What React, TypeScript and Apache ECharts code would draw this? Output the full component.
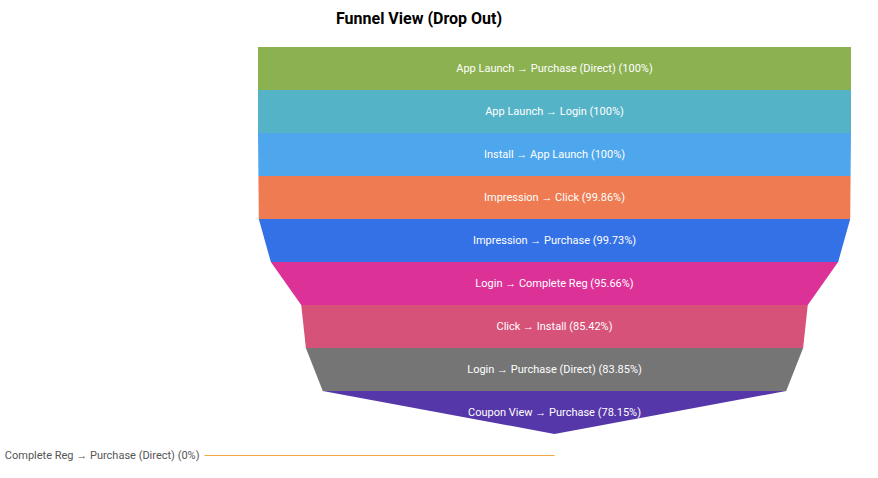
import React, { useEffect, useRef } from "react";
import * as echarts from "echarts";

const stageNames = [
  "App Launch → Purchase (Direct)",
  "App Launch → Login",
  "Install → App Launch",
  "Impression → Click",
  "Impression → Purchase",
  "Login → Complete Reg",
  "Click → Install",
  "Login → Purchase (Direct)",
  "Coupon View → Purchase",
  "Complete Reg → Purchase (Direct)",
];
const stageValues = [100, 100, 100, 99.86, 99.73, 95.66, 85.42, 83.85, 78.15, 0];
const stageColors = [
  "#8bb150",
  "#55b3c7",
  "#4ea6ec",
  "#ee7b51",
  "#3471e6",
  "#dc3197",
  "#d65279",
  "#757575",
  "#5637a9",
  "#f4a742",
];

export default function App() {
  const ref = useRef<HTMLDivElement>(null);
  useEffect(() => {
    if (!ref.current) return;
    const chart = echarts.init(ref.current, null, { renderer: "svg" });
    const data = stageNames.map((name, i) => {
      const item: any = {
        name,
        value: stageValues[i],
        itemStyle: { color: stageColors[i] },
      };
      if (stageValues[i] === 0) {
        item.label = {
          position: "left",
          color: "#555555",
        };
      }
      return item;
    });
    chart.setOption({
      animation: false,
      title: {
        text: "Funnel View (Drop Out)",
        left: 331,
        top: 5,
        textStyle: {
          fontFamily: "Roboto",
          fontSize: 16,
          fontWeight: "bold",
          color: "#000000",
        },
      },
      series: [
        {
          type: "funnel",
          left: 258,
          top: 47,
          width: 593,
          height: 430,
          min: 0,
          max: 100,
          minSize: "0%",
          maxSize: "100%",
          sort: "descending",
          gap: 0,
          label: {
            show: true,
            position: "inside",
            color: "#ffffff",
            fontFamily: "Roboto",
            fontSize: 11,
            formatter: (p: any) => `${p.name} (${p.value}%)`,
          },
          labelLine: {
            show: true,
            length: 350,
            lineStyle: { color: "#f4a742", width: 1 },
          },
          itemStyle: { borderWidth: 0 },
          emphasis: { disabled: true },
          data,
        },
      ],
    });
    return () => chart.dispose();
  }, []);
  return (
    <div
      ref={ref}
      style={{ position: "fixed", left: 0, top: 0, width: 878, height: 478, background: "#ffffff" }}
    />
  );
}
